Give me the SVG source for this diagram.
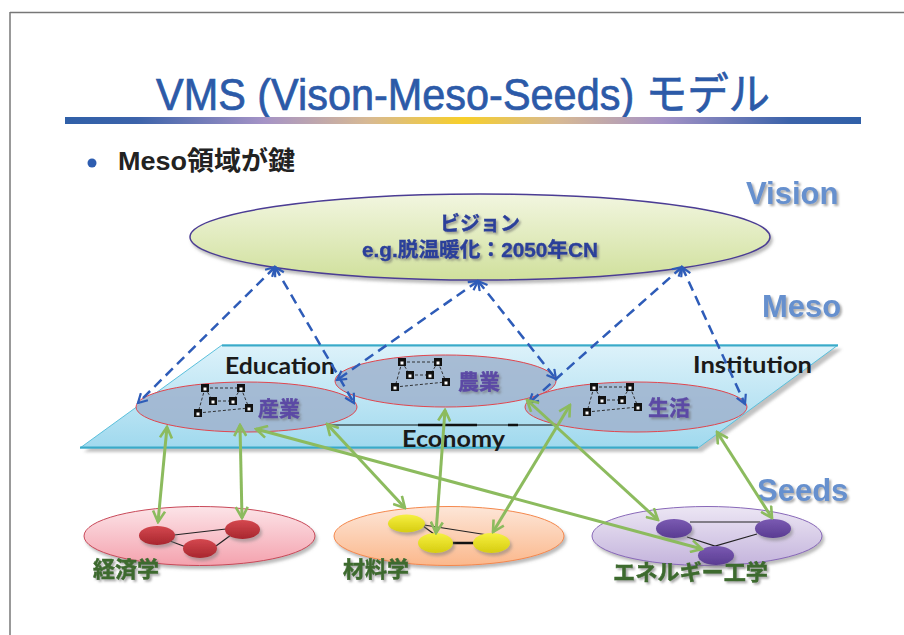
<svg xmlns="http://www.w3.org/2000/svg" xmlns:xlink="http://www.w3.org/1999/xlink" width="904" height="635" viewBox="0 0 904 635">
  <defs>
    <style>
      .title { font-family: "Liberation Sans", "Noto Sans CJK JP", sans-serif; font-size: 44px; fill: #2C5AA8; stroke: #2C5AA8; stroke-width: 0.7; }
      .bullet { font-family: "Liberation Sans", "Noto Sans CJK JP", sans-serif; font-size: 26px; font-weight: bold; fill: #222; }
      .layer { font-family: "Liberation Sans", sans-serif; font-size: 31px; font-weight: bold; fill: #6690CE; }
      .vis { font-family: "Liberation Sans", "Noto Sans CJK JP", sans-serif; font-size: 20px; font-weight: bold; fill: #2B3F9A; stroke: #2B3F9A; stroke-width: 0.4; text-anchor: middle; }
      .plat { font-family: Lato, "Open Sans", sans-serif; font-size: 23px; font-weight: bold; fill: #1A1A1A; }
      .meso { font-family: "Liberation Sans", "Noto Sans CJK JP", sans-serif; font-size: 21px; font-weight: bold; fill: #5B4AA5; stroke: #5B4AA5; stroke-width: 0.4; }
      .seed { font-family: "Liberation Sans", "Noto Sans CJK JP", sans-serif; font-size: 22px; font-weight: bold; fill: #3D6B2E; stroke: #3D6B2E; stroke-width: 0.5; }
      .mesoell { fill: #9FB3CE; fill-opacity: 0.85; stroke: #E0464E; stroke-width: 1; }
      .blue { fill: none; stroke: #2E5CB8; stroke-width: 2.5; stroke-dasharray: 10 6; marker-start: url(#mb); marker-end: url(#mb); }
      .green { fill: none; stroke: #8CBB5E; stroke-width: 3; marker-start: url(#mg); marker-end: url(#mg); }
      .link { stroke: #222; stroke-width: 1.2; }
      .dl { stroke: #222; stroke-width: 0.9; stroke-dasharray: 3 2; }
    </style>
    <linearGradient id="bar" x1="0" y1="0" x2="1" y2="0">
      <stop offset="0" stop-color="#3060A8"/>
      <stop offset="0.09" stop-color="#3C63AA"/>
      <stop offset="0.25" stop-color="#A593C6"/>
      <stop offset="0.38" stop-color="#D7B994"/>
      <stop offset="0.5" stop-color="#F7CF2A"/>
      <stop offset="0.62" stop-color="#D7B994"/>
      <stop offset="0.75" stop-color="#A593C6"/>
      <stop offset="0.91" stop-color="#3C63AA"/>
      <stop offset="1" stop-color="#3060A8"/>
    </linearGradient>
    <linearGradient id="gVision" x1="0" y1="0" x2="0" y2="1">
      <stop offset="0" stop-color="#F2F6E0"/>
      <stop offset="1" stop-color="#D0E09C"/>
    </linearGradient>
    <linearGradient id="gPlat" x1="0" y1="0" x2="0" y2="1">
      <stop offset="0" stop-color="#DDF2FA"/>
      <stop offset="1" stop-color="#A0D9EE"/>
    </linearGradient>
    <linearGradient id="gPink" x1="0" y1="0" x2="0" y2="1">
      <stop offset="0" stop-color="#FCE4E8"/>
      <stop offset="1" stop-color="#F4A2AE"/>
    </linearGradient>
    <linearGradient id="gPeach" x1="0" y1="0" x2="0" y2="1">
      <stop offset="0" stop-color="#FDE6D8"/>
      <stop offset="1" stop-color="#FBB88C"/>
    </linearGradient>
    <linearGradient id="gLav" x1="0" y1="0" x2="0" y2="1">
      <stop offset="0" stop-color="#ECE6F4"/>
      <stop offset="1" stop-color="#C4B4DC"/>
    </linearGradient>
    <linearGradient id="gRed" x1="0" y1="0" x2="0" y2="1">
      <stop offset="0" stop-color="#D4484F"/>
      <stop offset="1" stop-color="#A8262E"/>
    </linearGradient>
    <linearGradient id="gYel" x1="0" y1="0" x2="0" y2="1">
      <stop offset="0" stop-color="#F6F040"/>
      <stop offset="1" stop-color="#D6CC10"/>
    </linearGradient>
    <linearGradient id="gPur" x1="0" y1="0" x2="0" y2="1">
      <stop offset="0" stop-color="#7A5AB2"/>
      <stop offset="1" stop-color="#5A3C92"/>
    </linearGradient>
    <filter id="sh" x="-10%" y="-20%" width="120%" height="150%">
      <feDropShadow dx="2" dy="3" stdDeviation="1.5" flood-color="#777" flood-opacity="0.5"/>
    </filter>
    <filter id="tsh" x="-10%" y="-20%" width="130%" height="150%">
      <feDropShadow dx="2" dy="2" stdDeviation="1" flood-color="#666" flood-opacity="0.55"/>
    </filter>
    <filter id="blur2"><feGaussianBlur stdDeviation="1.5"/></filter>
    <marker id="mb" viewBox="0 0 12 12" refX="10" refY="6" markerWidth="12" markerHeight="12" orient="auto-start-reverse" markerUnits="userSpaceOnUse">
      <path d="M1,1 L10,6 L1,11" fill="none" stroke="#2E5CB8" stroke-width="2.2" stroke-dasharray="none"/>
    </marker>
    <marker id="mg" viewBox="0 0 14 14" refX="12" refY="7" markerWidth="14" markerHeight="14" orient="auto-start-reverse" markerUnits="userSpaceOnUse">
      <path d="M1,1 L12,7 L1,13" fill="none" stroke="#8CBB5E" stroke-width="2.6"/>
    </marker>
    <!-- small computer-network icon used inside each meso ellipse -->
    <g id="pc">
      <rect x="-4" y="-4" width="8" height="8" fill="#111"/>
      <rect x="-1.5" y="-0.5" width="3" height="3" fill="#fff"/>
    </g>
    <g id="net">
      <line class="dl" x1="0" y1="0" x2="36" y2="0"/>
      <line class="dl" x1="0" y1="0" x2="8" y2="13"/>
      <line class="dl" x1="0" y1="0" x2="-7" y2="25"/>
      <line class="dl" x1="8" y1="13" x2="28" y2="13"/>
      <line class="dl" x1="36" y1="0" x2="28" y2="13"/>
      <line class="dl" x1="36" y1="0" x2="44" y2="20"/>
      <line class="dl" x1="-7" y1="25" x2="44" y2="20"/>
      <use xlink:href="#pc" x="0" y="0"/>
      <use xlink:href="#pc" x="36" y="0"/>
      <use xlink:href="#pc" x="8" y="13"/>
      <use xlink:href="#pc" x="28" y="13"/>
      <use xlink:href="#pc" x="44" y="20"/>
      <use xlink:href="#pc" x="-7" y="25"/>
    </g>
  </defs>

  <rect x="0" y="0" width="904" height="635" fill="#fff"/>

  <!-- slide frame -->
  <g id="frame">
    <line x1="10" y1="12.5" x2="904" y2="12.5" stroke="#777" stroke-width="1.5"/>
    <line x1="10" y1="12" x2="10" y2="635" stroke="#777" stroke-width="1.5"/>
  </g>

  <!-- heading -->
  <g id="heading">
    <text class="title" x="156" y="110" textLength="614" lengthAdjust="spacingAndGlyphs">VMS (Vison-Meso-Seeds) モデル</text>
    <rect x="65" y="117" width="796" height="7" fill="url(#bar)"/>
    <circle cx="92" cy="163" r="4.5" fill="#2E5DB0"/>
    <text class="bullet" x="118" y="170" textLength="177" lengthAdjust="spacingAndGlyphs">Meso領域が鍵</text>
  </g>

  <!-- layer labels -->
  <g id="layer-labels" filter="url(#tsh)">
    <text class="layer" x="746" y="204">Vision</text>
    <text class="layer" x="762" y="317">Meso</text>
    <text class="layer" x="757" y="501">Seeds</text>
  </g>

  <!-- vision -->
  <g id="vision">
    <ellipse cx="480" cy="237" rx="290" ry="43" fill="url(#gVision)" stroke="#4B3C94" stroke-width="1.5" filter="url(#sh)"/>
    <g filter="url(#tsh)">
      <text class="vis" x="480" y="231">ビジョン</text>
      <text class="vis" x="480" y="257" textLength="236" lengthAdjust="spacingAndGlyphs">e.g.脱温暖化：2050年CN</text>
    </g>
  </g>

  <!-- meso platform -->
  <g id="platform">
    <polygon points="226,349 842,349 702,452 84,452" fill="#999" opacity="0.6" filter="url(#blur2)"/>
    <polygon points="222,345 838,345 698,448 80,448" fill="url(#gPlat)" stroke="#5BC0DC" stroke-width="1"/>
    <line x1="222" y1="345.5" x2="838" y2="345.5" stroke="#3AAAC8" stroke-width="2"/>
    <line x1="80" y1="447.5" x2="698" y2="447.5" stroke="#3AAAC8" stroke-width="2"/>
    <text class="plat" x="225" y="374" textLength="110" lengthAdjust="spacingAndGlyphs">Education</text>
    <text class="plat" x="693" y="373" textLength="119" lengthAdjust="spacingAndGlyphs">Institution</text>
  </g>

  <g id="economy">
    <line x1="327" y1="425" x2="557" y2="425" stroke="#111" stroke-width="1.2"/>
    <line x1="418" y1="425" x2="477" y2="425" stroke="#111" stroke-width="2.5"/>
    <line x1="508" y1="425" x2="518" y2="425" stroke="#111" stroke-width="2.5"/>
    <text class="plat" x="402" y="447" textLength="103" lengthAdjust="spacingAndGlyphs">Economy</text>
  </g>

  <!-- meso domains -->
  <g id="meso-agriculture">
    <ellipse class="mesoell" cx="445.5" cy="381" rx="110.5" ry="26"/>
    <use xlink:href="#net" x="402" y="362"/>
    <text class="meso" x="458" y="389" filter="url(#tsh)">農業</text>
  </g>
  <g id="meso-industry">
    <ellipse class="mesoell" cx="246.5" cy="407" rx="110.5" ry="25"/>
    <use xlink:href="#net" x="205" y="388"/>
    <text class="meso" x="258" y="416" filter="url(#tsh)">産業</text>
  </g>
  <g id="meso-life">
    <ellipse class="mesoell" cx="636" cy="407" rx="111" ry="25"/>
    <use xlink:href="#net" x="594" y="387"/>
    <text class="meso" x="648" y="415" filter="url(#tsh)">生活</text>
  </g>

  <!-- seeds: economics -->
  <g id="seeds-economics">
    <ellipse cx="199.5" cy="536" rx="115.5" ry="29.5" fill="url(#gPink)" stroke="#C84858" stroke-width="1" filter="url(#sh)"/>
    <line class="link" x1="174" y1="535" x2="226" y2="529"/>
    <line class="link" x1="170" y1="541" x2="186" y2="547"/>
    <line class="link" x1="216" y1="546" x2="231" y2="535"/>
    <g filter="url(#sh)">
      <ellipse cx="157" cy="535.5" rx="18" ry="9.5" fill="url(#gRed)"/>
      <ellipse cx="242.5" cy="529.5" rx="17.5" ry="9.5" fill="url(#gRed)"/>
      <ellipse cx="200" cy="548.5" rx="17" ry="9.5" fill="url(#gRed)"/>
    </g>
    <text class="seed" x="93" y="577" filter="url(#tsh)">経済学</text>
  </g>

  <!-- seeds: materials science -->
  <g id="seeds-materials">
    <ellipse cx="449" cy="536" rx="115" ry="29.5" fill="url(#gPeach)" stroke="#F4884C" stroke-width="1" filter="url(#sh)"/>
    <line class="link" x1="423" y1="526" x2="434" y2="534"/>
    <line class="link" x1="424" y1="525" x2="488" y2="535"/>
    <line x1="452" y1="543" x2="474" y2="543" stroke="#111" stroke-width="2.5"/>
    <g filter="url(#sh)">
      <ellipse cx="406.5" cy="523.5" rx="18.5" ry="9" fill="url(#gYel)"/>
      <ellipse cx="435.5" cy="543" rx="17.5" ry="10" fill="url(#gYel)"/>
      <ellipse cx="491.5" cy="543" rx="18.5" ry="10" fill="url(#gYel)"/>
    </g>
    <text class="seed" x="343" y="577" filter="url(#tsh)">材料学</text>
  </g>

  <!-- seeds: energy engineering -->
  <g id="seeds-energy">
    <ellipse cx="707" cy="536" rx="115" ry="29.5" fill="url(#gLav)" stroke="#8868B8" stroke-width="1" filter="url(#sh)"/>
    <line class="link" x1="690" y1="522" x2="760" y2="522"/>
    <polyline points="687,537 715,546 757,534" fill="none" stroke="#222" stroke-width="1.2"/>
    <g filter="url(#sh)">
      <ellipse cx="674" cy="528.5" rx="18" ry="9.5" fill="url(#gPur)"/>
      <ellipse cx="773" cy="528.5" rx="18" ry="9.5" fill="url(#gPur)"/>
      <ellipse cx="716" cy="555.5" rx="18" ry="9.5" fill="url(#gPur)"/>
    </g>
    <text class="seed" x="613" y="580" textLength="155" lengthAdjust="spacingAndGlyphs" filter="url(#tsh)">エネルギー工学</text>
  </g>

  <!-- connectors -->
  <g id="connectors">
    <!-- vision to meso (dashed, two-way) -->
    <line class="blue" x1="275" y1="267" x2="138" y2="403"/>
    <line class="blue" x1="275" y1="267" x2="354" y2="403"/>
    <line class="blue" x1="478" y1="281" x2="337" y2="380"/>
    <line class="blue" x1="478" y1="281" x2="556" y2="379"/>
    <line class="blue" x1="682" y1="267" x2="529" y2="403"/>
    <line class="blue" x1="682" y1="267" x2="745" y2="404"/>
    <!-- meso to seeds (solid, two-way) -->
    <line class="green" x1="167" y1="427" x2="158" y2="522"/>
    <line class="green" x1="240" y1="425" x2="242" y2="518"/>
    <line class="green" x1="256" y1="429" x2="702" y2="549"/>
    <line class="green" x1="327" y1="424" x2="405" y2="508"/>
    <line class="green" x1="445" y1="410" x2="436" y2="533"/>
    <line class="green" x1="570" y1="405" x2="493" y2="532"/>
    <line class="green" x1="527" y1="400" x2="658" y2="520"/>
    <line class="green" x1="717" y1="432" x2="772" y2="518"/>
  </g>
</svg>
